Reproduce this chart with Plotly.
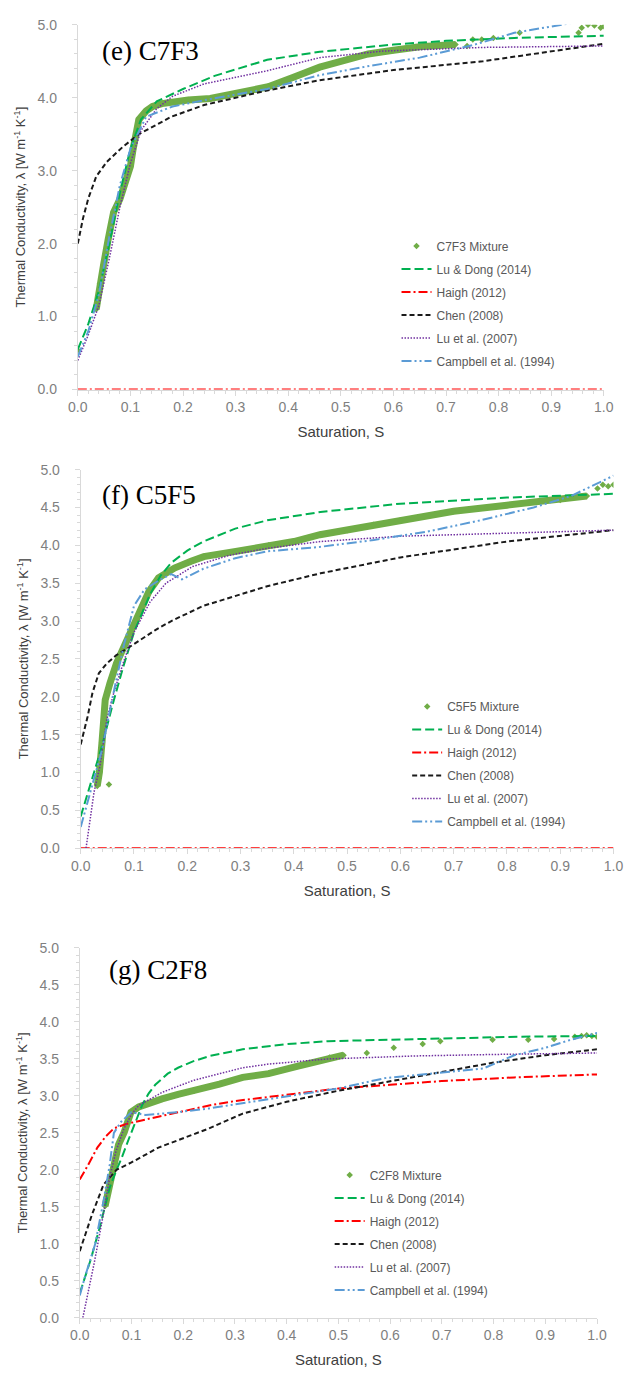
import plotly.graph_objects as go

# ---------------- data ----------------
# Panel (e) C7F3
e_mix_band_S = [0.035, 0.037, 0.042, 0.049, 0.058, 0.068, 0.08, 0.089, 0.1, 0.105, 0.116, 0.13, 0.142, 0.16,
                0.178, 0.21, 0.252, 0.3, 0.362, 0.41, 0.46, 0.5, 0.552, 0.6, 0.65, 0.718]
e_mix_band_L = [1.1, 1.21, 1.45, 1.71, 2.07, 2.43, 2.61, 2.82, 3.06, 3.29, 3.7, 3.82, 3.88, 3.92,
                3.94, 3.97, 3.99, 4.06, 4.15, 4.28, 4.42, 4.5, 4.6, 4.65, 4.7, 4.73]
e_mix_sparse_S = [0.0, 0.74, 0.751, 0.768, 0.79, 0.84, 0.952, 0.958, 0.97, 0.982, 0.994, 1.0]
e_mix_sparse_L = [0.54, 4.71, 4.8, 4.8, 4.82, 4.89, 4.89, 4.96, 5.0, 4.99, 4.96, 4.98]
e_ludong_S = [0, 0.02, 0.04, 0.06, 0.08, 0.1, 0.12, 0.15, 0.2, 0.26, 0.36, 0.46, 0.6, 0.7, 0.83, 1.0]
e_ludong_L = [0.55, 0.9, 1.35, 2.0, 2.7, 3.3, 3.7, 3.95, 4.12, 4.3, 4.52, 4.63, 4.73, 4.78, 4.82, 4.85]
e_haigh_S = [0.0, 1.0]
e_haigh_L = [0.0, 0.0]
e_chen_S = [0, 0.01, 0.02, 0.035, 0.055, 0.086, 0.116, 0.178, 0.24, 0.36, 0.46, 0.6, 0.77, 0.89, 1.0]
e_chen_L = [2.0, 2.35, 2.62, 2.92, 3.12, 3.33, 3.5, 3.74, 3.9, 4.1, 4.24, 4.38, 4.5, 4.62, 4.74]
e_lu_S = [0, 0.02, 0.04, 0.06, 0.08, 0.1, 0.12, 0.15, 0.18, 0.24, 0.36, 0.46, 0.58, 0.77, 1.0]
e_lu_L = [0.4, 0.75, 1.15, 1.8, 2.5, 3.1, 3.55, 3.85, 4.02, 4.19, 4.37, 4.55, 4.64, 4.69, 4.71]
e_camp_S = [0, 0.02, 0.04, 0.06, 0.08, 0.1, 0.13, 0.18, 0.25, 0.36, 0.46, 0.55, 0.65, 0.75, 0.83, 0.9, 1.0]
e_camp_L = [0.45, 0.8, 1.3, 2.1, 2.8, 3.3, 3.74, 3.88, 3.98, 4.12, 4.31, 4.43, 4.55, 4.72, 4.89, 4.98, 5.1]

# Panel (f) C5F5
f_mix_band_S = [0.031, 0.035, 0.04, 0.046, 0.055, 0.067, 0.085, 0.109, 0.128, 0.146, 0.176, 0.207, 0.231,
                0.291, 0.353, 0.4, 0.449, 0.5, 0.55, 0.6, 0.7, 0.8, 0.9, 0.95]
f_mix_band_L = [0.82, 1.0, 1.4, 1.96, 2.18, 2.44, 2.72, 3.09, 3.39, 3.57, 3.7, 3.79, 3.85,
                3.92, 4.0, 4.05, 4.14, 4.2, 4.27, 4.33, 4.45, 4.53, 4.6, 4.65]
f_mix_sparse_S = [0.053, 0.97, 0.98, 0.99, 1.0]
f_mix_sparse_L = [0.84, 4.75, 4.8, 4.78, 4.8]
f_ludong_S = [0, 0.02, 0.04, 0.06, 0.08, 0.1, 0.13, 0.15, 0.17, 0.2, 0.23, 0.29, 0.35, 0.45, 0.6, 0.8, 1.0]
f_ludong_L = [0.42, 0.9, 1.35, 1.9, 2.4, 2.85, 3.35, 3.6, 3.77, 3.93, 4.05, 4.22, 4.33, 4.44, 4.55, 4.63, 4.68]
f_haigh_S = [0.0, 1.0]
f_haigh_L = [0.0, 0.0]
f_chen_S = [0, 0.013, 0.022, 0.034, 0.049, 0.067, 0.09, 0.11, 0.14, 0.17, 0.23, 0.35, 0.45, 0.6, 0.8, 1.0]
f_chen_L = [1.37, 1.74, 2.05, 2.31, 2.44, 2.55, 2.65, 2.74, 2.88, 3.0, 3.2, 3.46, 3.63, 3.84, 4.05, 4.2]
f_lu_S = [0.01, 0.025, 0.036, 0.049, 0.062, 0.08, 0.1, 0.13, 0.16, 0.21, 0.28, 0.35, 0.45, 0.6, 0.8, 1.0]
f_lu_L = [0, 0.74, 1.08, 1.7, 2.05, 2.45, 2.85, 3.25, 3.5, 3.72, 3.87, 3.96, 4.05, 4.12, 4.16, 4.2]
f_camp_S = [0, 0.02, 0.04, 0.06, 0.08, 0.1, 0.12, 0.15, 0.17, 0.19, 0.23, 0.29, 0.35, 0.45, 0.55, 0.65,
            0.75, 0.85, 0.92, 1.0]
f_camp_L = [0.28, 0.8, 1.3, 2.0, 2.65, 3.2, 3.42, 3.55, 3.62, 3.55, 3.69, 3.83, 3.92, 3.98, 4.07, 4.18,
            4.33, 4.5, 4.65, 4.92]

# Panel (g) C2F8
g_mix_band_S = [0.049, 0.052, 0.058, 0.062, 0.068, 0.075, 0.086, 0.099, 0.114, 0.135, 0.159, 0.19, 0.221,
                0.27, 0.315, 0.365, 0.42, 0.483, 0.51]
g_mix_band_L = [1.51, 1.6, 1.8, 1.94, 2.1, 2.34, 2.51, 2.78, 2.85, 2.91, 2.96, 3.02, 3.07,
                3.16, 3.25, 3.3, 3.4, 3.52, 3.55]
g_mix_sparse_S = [0.555, 0.607, 0.663, 0.697, 0.798, 0.867, 0.917, 0.957, 0.97, 0.98, 0.99, 1.0]
g_mix_sparse_L = [3.58, 3.65, 3.7, 3.74, 3.76, 3.76, 3.77, 3.8, 3.81, 3.82, 3.81, 3.8]
g_ludong_S = [0, 0.021, 0.039, 0.058, 0.071, 0.081, 0.095, 0.108, 0.121, 0.133, 0.146, 0.17, 0.19, 0.22,
              0.252, 0.315, 0.4, 0.48, 0.6, 0.71, 0.85, 1.0]
g_ludong_L = [0.33, 0.78, 1.23, 1.76, 2.0, 2.16, 2.42, 2.65, 2.88, 3.03, 3.15, 3.3, 3.38, 3.47,
              3.54, 3.63, 3.7, 3.74, 3.76, 3.78, 3.8, 3.81]
g_haigh_S = [0, 0.015, 0.034, 0.05, 0.066, 0.09, 0.127, 0.19, 0.25, 0.3, 0.4, 0.5, 0.6, 0.7, 0.84, 1.0]
g_haigh_L = [1.87, 2.05, 2.3, 2.45, 2.56, 2.62, 2.68, 2.78, 2.87, 2.93, 3.02, 3.1, 3.15, 3.2, 3.25, 3.29]
g_chen_S = [0, 0.024, 0.046, 0.071, 0.1, 0.127, 0.152, 0.19, 0.25, 0.315, 0.4, 0.5, 0.6, 0.7, 0.8, 0.9, 1.0]
g_chen_L = [0.9, 1.4, 1.8, 2.0, 2.1, 2.2, 2.3, 2.4, 2.56, 2.76, 2.92, 3.07, 3.2, 3.33, 3.45, 3.55, 3.63]
g_lu_S = [0.006, 0.028, 0.047, 0.058, 0.07, 0.085, 0.1, 0.114, 0.16, 0.22, 0.315, 0.365, 0.48, 0.65, 0.8, 1.0]
g_lu_L = [0, 0.74, 1.45, 1.9, 2.25, 2.55, 2.75, 2.87, 3.05, 3.21, 3.38, 3.43, 3.5, 3.54, 3.56, 3.58]
g_camp_S = [0, 0.01, 0.03, 0.046, 0.058, 0.066, 0.08, 0.1, 0.127, 0.19, 0.25, 0.315, 0.4, 0.5, 0.59, 0.7,
            0.78, 0.84, 0.9, 0.95, 1.0]
g_camp_L = [0.3, 0.55, 1.0, 1.58, 2.07, 2.5, 2.65, 2.78, 2.74, 2.78, 2.83, 2.9, 3.0, 3.1, 3.24, 3.31,
            3.37, 3.55, 3.65, 3.76, 3.85]

x_ticks = [0.0, 0.1, 0.2, 0.3, 0.4, 0.5, 0.6, 0.7, 0.8, 0.9, 1.0]
panel_titles = ["(e) C7F3", "(f) C5F5", "(g) C2F8"]
mixture_names = ["C7F3 Mixture", "C5F5 Mixture", "C2F8 Mixture"]
model_names = ["Lu & Dong (2014)", "Haigh (2012)", "Chen (2008)", "Lu et al. (2007)", "Campbell et al. (1994)"]

# ---------------- styles ----------------
C_MIX = "#70ad47"
model_styles = [
    dict(color="#00b050", dash="9px,4px", width=2),
    dict(color="#ff0000", dash="9px,3px,2px,3px", width=2),
    dict(color="#1a1a1a", dash="5px,3px", width=2),
    dict(color="#7030a0", dash="1.5px,1.5px", width=1.5),
    dict(color="#5b9bd5", dash="10px,3px,2px,3px,2px,3px", width=2),
]

W, H = 639, 1383
panels = [
    dict(mix=(e_mix_band_S, e_mix_band_L, e_mix_sparse_S, e_mix_sparse_L),
         models=[(e_ludong_S, e_ludong_L), (e_haigh_S, e_haigh_L), (e_chen_S, e_chen_L),
                 (e_lu_S, e_lu_L), (e_camp_S, e_camp_L)],
         px=(70, 613), py=(386, 17), ydt=1.0, yminor=0.2,
         title_xy=(93, 43), leg_xy=(441, 226)),
    dict(mix=(f_mix_band_S, f_mix_band_L, f_mix_sparse_S, f_mix_sparse_L),
         models=[(f_ludong_S, f_ludong_L), (f_haigh_S, f_haigh_L), (f_chen_S, f_chen_L),
                 (f_lu_S, f_lu_L), (f_camp_S, f_camp_L)],
         px=(73, 623), py=(850, 467), ydt=0.5, yminor=0.1,
         title_xy=(93, 493), leg_xy=(452, 692)),
    dict(mix=(g_mix_band_S, g_mix_band_L, g_mix_sparse_S, g_mix_sparse_L),
         models=[(g_ludong_S, g_ludong_L), (g_haigh_S, g_haigh_L), (g_chen_S, g_chen_L),
                 (g_lu_S, g_lu_L), (g_camp_S, g_camp_L)],
         px=(72, 606), py=(1325, 951), ydt=0.5, yminor=0.1,
         title_xy=(100, 973), leg_xy=(372, 1166)),
]

fig = go.Figure()
layout_upd = {}
annotations = []
TICK_FONT = dict(family="Liberation Sans", size=14, color="#7f7f7f")
AX_GRAY = "#d9d9d9"

for i, p in enumerate(panels):
    k = "" if i == 0 else str(i + 1)
    xa, ya = "x" + k, "y" + k
    leg = "legend" + k
    bS, bL, sS, sL = p["mix"]
    # dense band of measurements
    fig.add_trace(go.Scatter(x=bS, y=bL, xaxis=xa, yaxis=ya, mode="lines",
                             line=dict(color=C_MIX, width=7), showlegend=False,
                             hoverinfo="skip", legend=leg))
    fig.add_trace(go.Scatter(x=bS + sS, y=bL + sL, xaxis=xa, yaxis=ya, mode="markers",
                             marker=dict(color=C_MIX, size=5, symbol="diamond"),
                             name=mixture_names[i], legend=leg, legendgroup=f"m{i}"))
    for j, (mS, mL) in enumerate(p["models"]):
        fig.add_trace(go.Scatter(x=mS, y=mL, xaxis=xa, yaxis=ya, mode="lines",
                                 line=model_styles[j], name=model_names[j],
                                 legend=leg, legendgroup=f"g{i}{j}"))
    x0, x1 = p["px"]
    yb, yt = p["py"]
    layout_upd["xaxis" + k] = dict(
        domain=[x0 / W, x1 / W], anchor=ya, range=[0, 1.0], tickvals=x_ticks,
        tickformat=".1f", showline=True, linecolor=AX_GRAY, linewidth=1,
        ticks="outside", ticklen=5, tickcolor=AX_GRAY, showgrid=False, zeroline=False,
        minor=dict(ticks="outside", dtick=0.02, ticklen=3, tickcolor=AX_GRAY),
        tickfont=TICK_FONT,
        title=dict(text="Saturation, S", font=dict(family="Liberation Sans", size=15, color="#404040"),
                   standoff=12))
    layout_upd["yaxis" + k] = dict(
        domain=[(H - yb) / H, (H - yt) / H], anchor=xa, range=[0, 5.0], dtick=p["ydt"],
        tickformat=".1f", showline=True, linecolor=AX_GRAY, linewidth=1,
        ticks="outside", ticklen=5, tickcolor=AX_GRAY, showgrid=False, zeroline=False,
        minor=dict(ticks="outside", dtick=p["yminor"], ticklen=3, tickcolor=AX_GRAY),
        tickfont=TICK_FONT, ticklabelstandoff=12,
        title=dict(text="Thermal Conductivity, λ [W m<sup>-1</sup> K<sup>-1</sup>]",
                   font=dict(family="Liberation Sans", size=13, color="#404040"), standoff=8))
    lx, ly = p["leg_xy"]
    layout_upd[leg] = dict(x=(lx - 42) / W, y=(H - ly) / H, xanchor="left", yanchor="top",
                           bgcolor="rgba(0,0,0,0)", traceorder="grouped", tracegroupgap=4,
                           font=dict(family="Liberation Sans", size=12, color="#595959"),
                           itemwidth=30)
    tx, ty = p["title_xy"]
    annotations.append(dict(text=panel_titles[i], x=tx / W, y=(H - ty) / H, xref="paper", yref="paper",
                            xanchor="left", yanchor="middle", showarrow=False,
                            font=dict(family="Liberation Serif", size=27, color="#000000")))

fig.update_layout(**layout_upd)
fig.update_layout(width=W, height=H, margin=dict(l=0, r=0, t=0, b=0),
                  paper_bgcolor="white", plot_bgcolor="white", annotations=annotations)
fig.write_html("out.html")
